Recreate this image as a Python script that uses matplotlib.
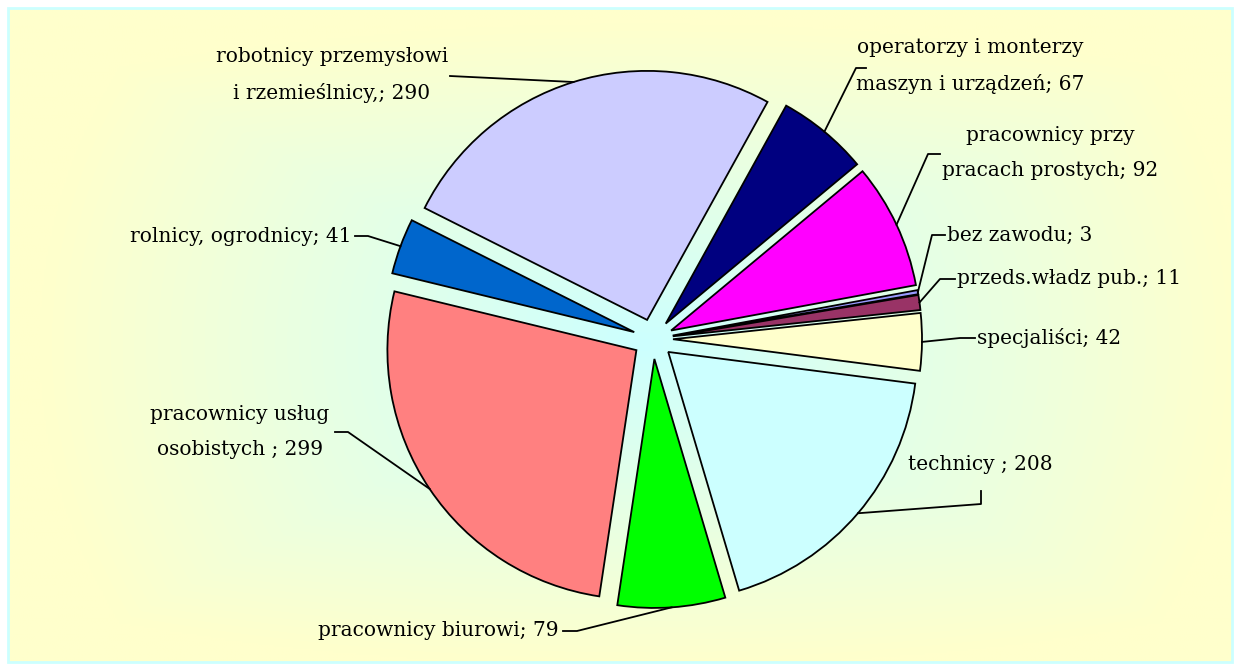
import numpy as np
import matplotlib
matplotlib.use("Agg")
import matplotlib.pyplot as plt
from matplotlib.patches import Rectangle

W, H = 1239, 670

# --- data ---
categories = [
    "robotnicy przemysłowi\ni rzemieślnicy,",
    "operatorzy i monterzy\nmaszyn i urządzeń",
    "pracownicy przy\npracach prostych",
    "bez zawodu",
    "przeds.władz pub.",
    "specjaliści",
    "technicy ",
    "pracownicy biurowi",
    "pracownicy usług\nosobistych ",
    "rolnicy, ogrodnicy",
]
values = [290, 67, 92, 3, 11, 42, 208, 79, 299, 41]
colors = ["#CCCCFF", "#000080", "#FF00FF", "#9999FF", "#993366",
          "#FFFFCC", "#CCFFFF", "#00FF00", "#FF8080", "#0066CC"]

# label layout in pixel coords (y down): text pos, alignment, leader elbow points
label_pos = [(332, 75), (970, 66), (1050, 153), (947, 235), (957, 279),
             (977, 338), (980, 465), (559, 630), (240, 432), (352, 236)]
label_ha = ["center", "center", "center", "left", "left",
            "left", "center", "right", "center", "right"]
leader_pts = [
    [(450, 76)],
    [(866, 68), (856, 68)],
    [(940, 154), (928, 154)],
    [(945, 235), (932, 235)],
    [(955, 279), (940, 279)],
    [(975, 338), (960, 338)],
    [(981, 491), (981, 504)],
    [(563, 631), (577, 631)],
    [(335, 432), (348, 432)],
    [(355, 236), (368, 236)],
]


def px(x, y):
    # pixel (y down) -> data (y up)
    return x, H - y


fig = plt.figure(figsize=(W / 100, H / 100), dpi=100)
ax = fig.add_axes([0, 0, 1, 1])
ax.set_xlim(0, W)
ax.set_ylim(0, H)
ax.set_aspect("equal")
ax.axis("off")

# gradient background: light cyan centre fading to light yellow
x0, x1, y0, y1 = 8, 1232, 8, 662
gx = np.linspace(x0, x1, 600)
gy = np.linspace(y0, y1, 320)
XX, YY = np.meshgrid(gx, gy)
cx, cy = 640, 345
dx = np.abs(XX - cx) / (x1 - x0) * 2
dy = np.abs(YY - cy) / (y1 - y0) * 2
t = np.sqrt(0.5 * np.maximum(dx, dy) ** 2 + 0.5 * (dx ** 2 + dy ** 2) / 2)
t = np.clip(t / 0.85, 0, 1)
c_in = np.array([0xCC, 0xFF, 0xFF]) / 255
c_out = np.array([0xFF, 0xFF, 0xCC]) / 255
img = c_in[None, None, :] * (1 - t[..., None]) + c_out[None, None, :] * t[..., None]
ax.imshow(img, extent=[x0, x1, H - y1, H - y0], origin="upper", zorder=0,
          interpolation="bilinear", aspect="auto")
ax.add_patch(Rectangle((x0, H - y1), x1 - x0, y1 - y0, fill=False,
                       edgecolor="#CCFFFF", lw=2, zorder=1))

radius = 249
# explode is in data units here (pixels)
wedges, _ = ax.pie(values, colors=colors, startangle=153.3, counterclock=False,
                   explode=[20] * len(values), radius=radius,
                   center=px(653, 339), frame=True,
                   wedgeprops=dict(edgecolor="black", linewidth=1.3))
for w in wedges:
    w.set_zorder(2)
ax.set_xlim(0, W)
ax.set_ylim(0, H)
ax.axis("off")

font = dict(family="DejaVu Serif", fontsize=14.5, color="black")
for w, cat, val, pos, ha, pts in zip(wedges, categories, values,
                                      label_pos, label_ha, leader_pts):
    mid = np.deg2rad((w.theta1 + w.theta2) / 2)
    ax_x = w.center[0] + w.r * np.cos(mid)
    ax_y = w.center[1] + w.r * np.sin(mid)
    xs = [px(*p)[0] for p in pts] + [ax_x]
    ys = [px(*p)[1] for p in pts] + [ax_y]
    ax.plot(xs, ys, color="black", lw=1.3, zorder=3)
    ax.text(*px(*pos), f"{cat}; {val}", ha=ha, va="center",
            multialignment="center", linespacing=2.05, zorder=4, **font)

fig.savefig("out.png", dpi=100)
